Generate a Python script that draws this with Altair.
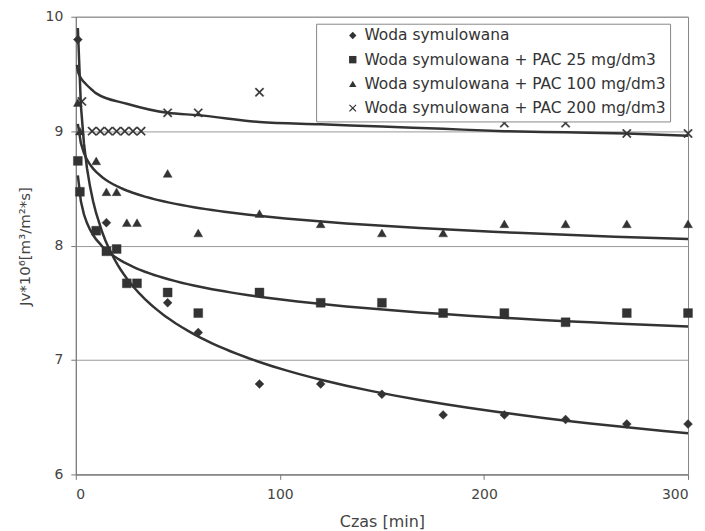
import altair as alt
import pandas as pd

# ---- data ----
series_names = [
    "Woda symulowana",
    "Woda symulowana + PAC 25 mg/dm3",
    "Woda symulowana + PAC 100 mg/dm3",
    "Woda symulowana + PAC 200 mg/dm3",
]

t_ws = [1, 15, 45, 60, 90, 120, 150, 180, 210, 240, 270, 300]
v_ws = [9.8, 8.2, 7.5, 7.24, 6.79, 6.79, 6.70, 6.52, 6.52, 6.48, 6.44, 6.44]

t_pac25 = [1, 2, 10, 15, 20, 25, 30, 45, 60, 90, 120, 150, 180, 210, 240, 270, 300]
v_pac25 = [8.74, 8.47, 8.13, 7.95, 7.97, 7.67, 7.67, 7.59, 7.41, 7.59, 7.50, 7.50, 7.41, 7.41, 7.33, 7.41, 7.41]

t_pac100 = [1, 2, 10, 15, 20, 25, 30, 45, 60, 90, 120, 150, 180, 210, 240, 270, 300]
v_pac100 = [9.25, 9.0, 8.74, 8.47, 8.47, 8.20, 8.20, 8.63, 8.11, 8.28, 8.19, 8.11, 8.11, 8.19, 8.19, 8.19, 8.19]

t_pac200 = [3, 8, 12, 16, 20, 24, 28, 32, 45, 60, 90, 210, 240, 270, 300]
v_pac200 = [9.26, 9.0, 9.0, 9.0, 9.0, 9.0, 9.0, 9.0, 9.16, 9.16, 9.34, 9.07, 9.07, 8.98, 8.98]

# trend line of the PAC 200 series
trend_t_pac200 = [0.6, 1, 2, 3, 5, 8, 10, 25, 45, 60, 90, 120, 150, 180, 210, 240, 270, 300]
trend_v_pac200 = [9.58, 9.53, 9.48, 9.45, 9.41, 9.36, 9.33, 9.24, 9.16, 9.14, 9.08, 9.06, 9.04, 9.02, 9.00, 8.99, 8.98, 8.96]

x_ticks = [0, 100, 200, 300]
y_ticks = [6, 7, 8, 9, 10]

rows = []
for name, ts, vs in zip(series_names,
                        [t_ws, t_pac25, t_pac100, t_pac200],
                        [v_ws, v_pac25, v_pac100, v_pac200]):
    for t, v in zip(ts, vs):
        rows.append({"series": name, "t": t, "v": v})
df = pd.DataFrame(rows)
df_fit = df[df["series"] != series_names[3]]
df_trend200 = pd.DataFrame({"t": trend_t_pac200, "v": trend_v_pac200})

FONT = "DejaVu Sans"
INK = "#333333"
X_PATH = ("M-1,-0.78L-0.78,-1L0,-0.22L0.78,-1L1,-0.78L0.22,0L1,0.78L0.78,1"
          "L0,0.22L-0.78,1L-1,0.78L-0.22,0Z")
shape_range = ["diamond", "square", "triangle-up", X_PATH]

x_enc = alt.X(
    "t:Q",
    scale=alt.Scale(domain=[0, 300], nice=False, zero=False),
    axis=alt.Axis(
        values=x_ticks, grid=False, title="Czas [min]",
        titleX=307, titleY=47, titleAlign="center", titleBaseline="middle",
        titleFont=FONT, titleFontSize=16, titleFontWeight="normal", titleColor="#444",
        labelFont=FONT, labelFontSize=14, labelColor="#444", labelPadding=8,
        tickSize=5, tickColor="#777", domainColor="#777",
    ),
)
y_enc = alt.Y(
    "v:Q",
    scale=alt.Scale(domain=[6, 10], nice=False, zero=False),
    axis=alt.Axis(
        values=y_ticks, grid=True, gridColor="#999", gridWidth=1,
        title="Jv*10⁶[m³/m²*s]",
        titleX=-51, titleY=230, titleAngle=270, titleAlign="center", titleBaseline="middle",
        titleFont=FONT, titleFontSize=15, titleFontWeight="normal", titleColor="#444",
        labelFont=FONT, labelFontSize=14, labelColor="#444", labelPadding=8,
        tickSize=5, tickColor="#777", domainColor="#777",
    ),
)

fit_lines = (
    alt.Chart(df_fit)
    .transform_regression("t", "v", groupby=["series"], method="pow", extent=[1, 300])
    .mark_line(color=INK, strokeWidth=2.5)
    .encode(x=x_enc, y=y_enc, detail="series:N")
)

trend200 = (
    alt.Chart(df_trend200)
    .mark_line(color=INK, strokeWidth=2.5, interpolate="monotone")
    .encode(x=x_enc, y=y_enc)
)

points = (
    alt.Chart(df)
    .mark_point(filled=True, color=INK, stroke=INK, strokeWidth=0.4, size=80, opacity=1)
    .encode(
        x=x_enc,
        y=y_enc,
        shape=alt.Shape(
            "series:N",
            scale=alt.Scale(domain=series_names, range=shape_range),
            legend=alt.Legend(
                title=None, orient="none", legendX=241, legendY=7,
                fillColor="white", strokeColor="#888", padding=4,
                symbolOffset=25, labelOffset=4, rowPadding=7.3,
                symbolSize=55, symbolFillColor=INK, symbolStrokeColor=INK,
                symbolStrokeWidth=0.4,
                labelFont=FONT, labelFontSize=15.5, labelColor="#333", labelLimit=400,
            ),
        ),
    )
)

chart = (
    alt.layer(fit_lines, trend200, points)
    .properties(
        width=614, height=459,
        autosize=alt.AutoSizeParams(type="none"),
        padding={"left": 68, "top": 8, "right": 9, "bottom": 56},
    )
    .configure_view(stroke="#888", strokeWidth=1)
)

chart.save("out.html", embed_options={"renderer": "svg", "actions": False})
